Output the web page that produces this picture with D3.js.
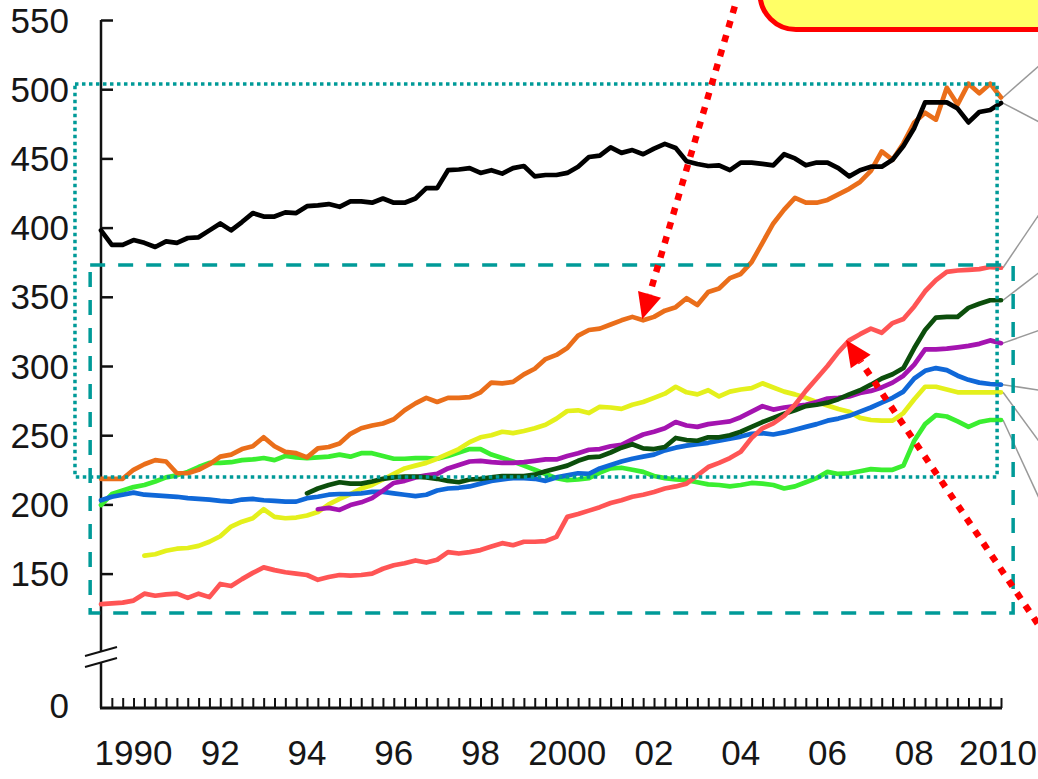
<!DOCTYPE html>
<html>
<head>
    <title>Quarterly index lines, 1990-2010</title>
    <meta charset="utf-8" />
    <script src="https://d3js.org/d3.v7.min.js"></script>
    <style>
        body { margin: 0; background: #fff; }
        svg { display: block; }
        .tick-label {
            font-family: "Liberation Sans", Arial, sans-serif;
            font-size: 35px;
            fill: #161616;
        }
        .series {
            fill: none;
            stroke-width: 4.7;
            stroke-linejoin: round;
            stroke-linecap: round;
        }
    </style>
</head>
<body>
    <div id="chart"></div>
    <script>
        // y tick labels and x year labels
        var yTicks = [550, 500, 450, 400, 350, 300, 250, 200, 150];
        var years = [1990, 1992, 1994, 1996, 1998, 2000, 2002, 2004, 2006, 2008, 2010];
        var yearLabels = ["1990", "92", "94", "96", "98", "2000", "02", "04", "06", "08", "2010"];

        // quarterly values, each series starts at its own quarter
        var blackStart = 1989.75;
        var black = [398, 387.5, 387.5, 391, 389, 386, 390, 389, 392.5, 393, 398, 403, 398, 404, 410.5, 408,
            408, 411, 410.5, 415.5, 416, 417, 415, 419, 419, 418, 421, 418, 418, 421, 428.5, 428.5,
            441.5, 442, 443, 439.5, 441.5, 439, 443, 444.5, 437, 438, 438, 439.5, 444, 451, 452, 458,
            454, 456, 453, 457, 460.5, 457.5, 448, 446, 444.5, 445, 441.5, 447, 447, 446, 445, 453,
            450, 445, 447, 447, 443, 437, 441.5, 444, 444, 449, 459, 472, 490.5, 490.5, 490.5, 486,
            476, 483.5, 485, 490];

        var orangeStart = 1989.75;
        var orange = [218.5, 218.5, 218.5, 225, 229, 232, 231, 222.5, 222.5, 225, 229, 234.5, 236, 240, 242, 248.5,
            242, 238, 237, 234, 240.5, 241.5, 244, 251, 255, 257, 258.5, 261.5, 268, 273, 277, 274,
            277, 277, 277.5, 281, 288, 287.5, 288.5, 294, 298, 305, 308, 313, 322, 326, 327, 330,
            333, 335.5, 333, 335.5, 340, 342.5, 349, 344, 353.5, 356, 363.5, 366.5, 375, 389, 403, 413,
            421.5, 418, 418, 420, 424, 428, 433, 441, 455, 449, 461, 476, 483, 478, 501, 489,
            504, 497, 504, 494];

        var redStart = 1989.75;
        var red = [128, 128.5, 129, 130.5, 135.5, 134, 135, 135.5, 132.5, 135.5, 133, 142.5, 141, 146, 150.5, 154.5,
            152.5, 151, 150, 149, 145.5, 147.5, 149, 148.5, 149, 150, 153.5, 156, 157.5, 159.5, 158, 160,
            165.5, 164.5, 165.5, 167, 169.5, 172, 170.5, 173, 173, 173.5, 176.5, 191, 193, 195.5, 198, 201,
            203, 205.5, 207, 209, 211.5, 213, 215, 221, 227, 230, 233.5, 238, 248, 255, 258.5, 264,
            272, 282, 291, 300, 310, 318.5, 323, 327, 324, 331, 334, 343, 354, 362, 368, 369,
            369.5, 370, 371.5, 371];

        var darkGreenStart = 1994.5;
        var darkGreen = [208, 211.5, 214, 216, 215, 215, 216.5, 218.5, 219.5, 220, 220, 219.5, 218.5, 217, 216, 218,
            218.5, 219.5, 220.5, 220.5, 220.5, 221.5, 224, 226, 228, 231.5, 234, 234.5, 237.5, 241, 243.5, 240.5,
            240, 241.5, 248, 246.5, 246, 248.5, 248.5, 250, 252.5, 256, 259.5, 262.5, 265.5, 268, 271, 272,
            273.5, 276, 279.5, 282.5, 286.5, 291, 294, 298.5, 313, 326, 335, 335.5, 335.5, 342, 345, 347.5,
            347.5];

        var purpleStart = 1994.75;
        var purple = [196.5, 197.5, 196, 199.5, 201.5, 204.5, 210, 215.5, 217, 219.5, 221, 222, 226, 228.5, 231, 231.5,
            230.5, 230, 230, 230.5, 231.5, 232.5, 232.5, 235, 237, 239.5, 240, 242, 243, 247, 250.5, 252.5,
            255, 259.5, 257, 256, 258, 259, 260, 263, 267, 271, 268.5, 270, 271, 272, 274, 276.5,
            277, 278, 280.5, 282, 284.5, 288, 293, 301, 312, 312, 312.5, 313.5, 314.5, 316, 318.5, 316.5];

        var blueStart = 1989.75;
        var blue = [203, 205.5, 207, 208.5, 207, 206.5, 206, 205.5, 204.5, 204, 203.5, 202.5, 202, 203.5, 204, 203,
            202.5, 202, 202, 204.5, 205.5, 207, 207.5, 207.5, 208, 209, 209, 208, 207, 206, 207, 210,
            211.5, 212, 213, 215, 217, 218, 219, 219, 218.5, 217, 219.5, 221, 222.5, 222, 226, 228.5,
            231, 233, 234.5, 236, 239, 241, 242.5, 243.5, 244.5, 246, 247.5, 249, 251, 251.5, 250.5, 252,
            254, 256, 258, 260.5, 262, 264, 267, 270, 273.5, 277, 281.5, 291, 296.5, 298.5, 297, 293,
            290, 288, 287, 286.5];

        var yellowStart = 1990.75;
        var yellow = [163, 164, 166.5, 168, 168.5, 170, 173, 177, 184, 187.5, 190, 196.5, 191, 190, 190.5, 192,
            194.5, 200, 204, 207.5, 211.5, 214, 218, 222, 226, 228, 230, 233, 236.5, 240, 245, 248.5,
            250, 252.5, 251.5, 253, 255, 257.5, 262, 267.5, 268, 266, 270.5, 270, 269, 272, 274, 277,
            280, 285, 281, 279.5, 282.5, 278, 281.5, 283, 284, 287.5, 284.5, 281.5, 279.5, 277, 274, 271.5,
            269, 267, 262.5, 261, 260.5, 260.5, 266, 276, 285, 285, 283, 281, 281, 281, 281, 281];

        var greenStart = 1989.75;
        var green = [199.5, 207.5, 210, 212.5, 214, 216.5, 219.5, 221, 223.5, 227, 230, 230, 230.5, 232, 232.5, 233.5,
            232, 235, 234, 233.5, 234, 234.5, 236, 234.5, 237, 237, 235, 233, 233, 233.5, 233.5, 233,
            235, 237.5, 240, 240, 236, 233.5, 231, 228, 225, 222, 219, 217.5, 218, 219, 223, 226,
            226.5, 225, 223.5, 220.5, 219, 218, 217.5, 216, 214.5, 214, 213, 214, 215.5, 215, 214, 211.5,
            213, 216, 219, 223.5, 222, 222.5, 224, 225.5, 225, 225, 228, 246, 258, 264.5, 263.5, 260,
            256, 259.5, 261, 261];

        // drawing order (first drawn is at the bottom), with the value where each leader line leaves the picture
        var seriesList = [
            {name: "green", start: greenStart, values: green, color: "#3aee30", labelAt: 203},
            {name: "yellow", start: yellowStart, values: yellow, color: "#e4f01c", labelAt: 244.5},
            {name: "blue", start: blueStart, values: blue, color: "#1068d8", labelAt: 282.5},
            {name: "purple", start: purpleStart, values: purple, color: "#a414b0", labelAt: 326},
            {name: "darkGreen", start: darkGreenStart, values: darkGreen, color: "#0c4e0c", labelAt: 368},
            {name: "red", start: redStart, values: red, color: "#ff5555", labelAt: 410.5},
            {name: "orange", start: orangeStart, values: orange, color: "#ea6e1a", labelAt: 517.5},
            {name: "black", start: blackStart, values: black, color: "#000000", labelAt: 476}
        ];

        // highlight boxes in data units: [t0, t1, v top, v bottom]
        var dottedBox = [1989.15, 2010.41, 503.8, 219.8];
        var dashedBox = [1989.5, 2010.78, 373, 121.5];

        var width = 1038, height = 779;
        var baseY = 708;

        var x = d3.scaleLinear().domain([1989.75, 2010.5]).range([101, 1001]);
        var y = d3.scaleLinear().domain([150, 550]).range([573.6, 20]);

        var svg = d3.select("#chart").append("svg")
            .attr("width", width)
            .attr("height", height);

        svg.append("rect").attr("width", width).attr("height", height).attr("fill", "#fff");

        // y axis ticks (pointing inward), labels on the left
        var yAxis = svg.append("g")
            .attr("transform", "translate(101,0)")
            .call(d3.axisRight(y).tickValues(yTicks).tickSize(12).tickFormat(""));
        yAxis.select(".domain").remove();
        yAxis.selectAll(".tick line").attr("stroke", "#111").attr("stroke-width", 2.5);

        svg.selectAll(".ylab")
            .data(yTicks)
            .enter().append("text")
            .attr("class", "tick-label")
            .attr("x", 69)
            .attr("y", function(d) { return y(d); })
            .attr("dy", "0.36em")
            .attr("text-anchor", "end")
            .text(function(d) { return d; });

        svg.append("text")
            .attr("class", "tick-label")
            .attr("x", 69)
            .attr("y", baseY - 3)
            .attr("dy", "0.36em")
            .attr("text-anchor", "end")
            .text("0");

        // y axis line with a break
        svg.append("line").attr("x1", 101).attr("x2", 101).attr("y1", y(550)).attr("y2", 651)
            .attr("stroke", "#111").attr("stroke-width", 2.5);
        svg.append("line").attr("x1", 101).attr("x2", 101).attr("y1", 663).attr("y2", baseY)
            .attr("stroke", "#111").attr("stroke-width", 2.5);
        [[656, 647], [667, 658]].forEach(function(b) {
            svg.append("line").attr("x1", 85).attr("y1", b[0]).attr("x2", 117).attr("y2", b[1])
                .attr("stroke", "#111").attr("stroke-width", 2);
        });

        // x axis: quarterly minor ticks pointing up
        var quarters = d3.range(1990, 2010.51, 0.25);
        var xAxis = svg.append("g")
            .attr("transform", "translate(0," + baseY + ")")
            .call(d3.axisTop(x).tickValues(quarters).tickSize(10).tickFormat(""));
        xAxis.select(".domain").remove();
        xAxis.selectAll(".tick line").attr("stroke", "#111").attr("stroke-width", 2);
        svg.append("line").attr("x1", 100).attr("x2", x(2010.5) + 1).attr("y1", baseY).attr("y2", baseY)
            .attr("stroke", "#111").attr("stroke-width", 3);

        svg.selectAll(".xlab")
            .data(years)
            .enter().append("text")
            .attr("class", "tick-label")
            .attr("x", function(d) { return x(d + 0.5) - (d === 2010 ? 3 : 0); })
            .attr("y", 765)
            .attr("text-anchor", "middle")
            .text(function(d, i) { return yearLabels[i]; });

        // leader lines toward the labels outside the picture
        seriesList.forEach(function(s) {
            var last = s.values[s.values.length - 1];
            svg.append("line")
                .attr("x1", x(2010.5) + 2).attr("y1", y(last))
                .attr("x2", 1040).attr("y2", y(s.labelAt))
                .attr("stroke", "#999").attr("stroke-width", 1.5);
        });

        // the series
        var line = d3.line()
            .x(function(d) { return x(d.t); })
            .y(function(d) { return y(d.v); });

        seriesList.forEach(function(s) {
            var pts = s.values.map(function(v, i) { return {t: s.start + i * 0.25, v: v}; });
            svg.append("path")
                .datum(pts)
                .attr("class", "series")
                .attr("stroke", s.color)
                .attr("d", line);
        });

        // teal highlight boxes
        svg.append("rect")
            .attr("x", x(dottedBox[0])).attr("y", y(dottedBox[2]))
            .attr("width", x(dottedBox[1]) - x(dottedBox[0]))
            .attr("height", y(dottedBox[3]) - y(dottedBox[2]))
            .attr("fill", "none").attr("stroke", "#009a98")
            .attr("stroke-width", 3.5).attr("stroke-dasharray", "3.5 3.5");
        svg.append("rect")
            .attr("x", x(dashedBox[0])).attr("y", y(dashedBox[2]))
            .attr("width", x(dashedBox[1]) - x(dashedBox[0]))
            .attr("height", y(dashedBox[3]) - y(dashedBox[2]))
            .attr("fill", "none").attr("stroke", "#009a98")
            .attr("stroke-width", 3.5).attr("stroke-dasharray", "15 13");

        // callout box at the top (cut by the edge)
        svg.append("rect")
            .attr("x", 760).attr("y", -70)
            .attr("width", 400).attr("height", 99.5)
            .attr("rx", 36)
            .attr("fill", "#ffff66").attr("stroke", "#ff0000").attr("stroke-width", 5);

        // red dotted arrows: tip on a series point, tail off the picture
        function arrow(tail, tip) {
            var dx = tip[0] - tail[0], dy = tip[1] - tail[1];
            var len = Math.sqrt(dx * dx + dy * dy);
            var ux = dx / len, uy = dy / len;
            var bx = tip[0] - 26 * ux, by = tip[1] - 26 * uy;
            svg.append("line")
                .attr("x1", tail[0]).attr("y1", tail[1])
                .attr("x2", bx).attr("y2", by)
                .attr("stroke", "#ff0000").attr("stroke-width", 6.5)
                .attr("stroke-dasharray", "7 8");
            svg.append("path")
                .attr("d", "M" + tip[0] + "," + tip[1] +
                    "L" + (bx - 12 * uy) + "," + (by + 12 * ux) +
                    "L" + (bx + 12 * uy) + "," + (by - 12 * ux) + "Z")
                .attr("fill", "#ff0000");
        }
        arrow([739, -8], [x(2002.25) - 1, y(333) - 1]);
        arrow([1046, 636], [x(2006.93), y(318.8)]);
    </script>
</body>
</html>
